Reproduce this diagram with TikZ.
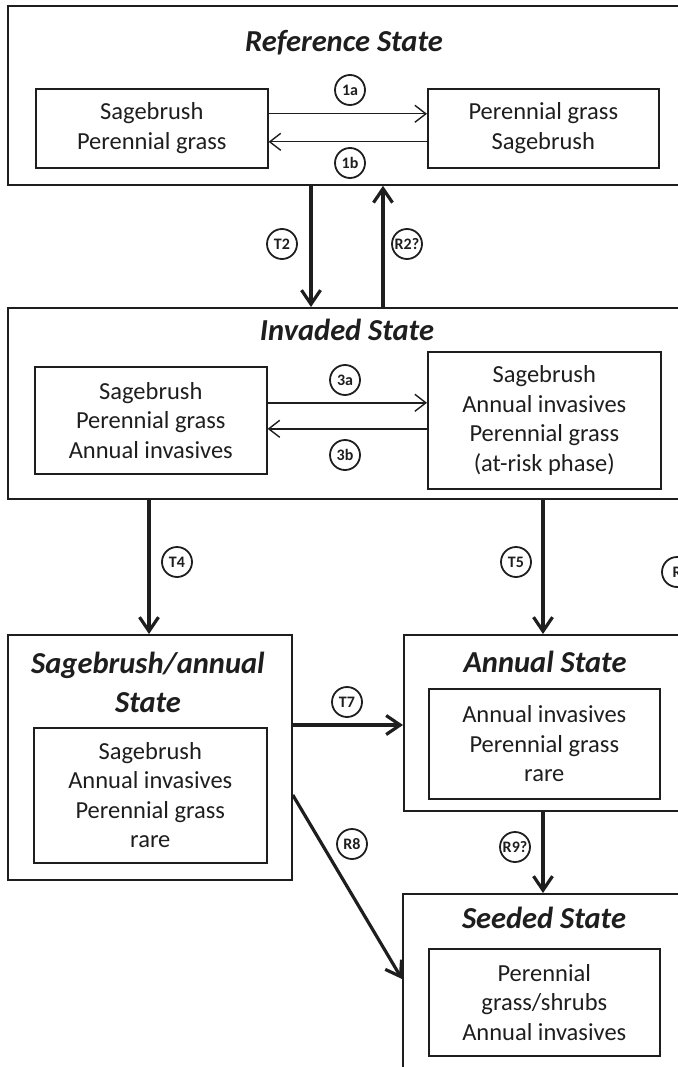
\documentclass[tikz,border=0pt]{standalone}
\usepackage{fontspec}
\setmainfont{Carlito}
\usetikzlibrary{arrows.meta}
\definecolor{ink}{RGB}{30,30,30}
\begin{document}
\begin{tikzpicture}[x=1pt,y=-1pt,
  every node/.style={text=ink},
  outerbox/.style={draw=ink,line width=1.8pt,anchor=north west,inner sep=0pt},
  innerbox/.style={draw=ink,line width=1.6pt,anchor=north west,align=center,inner sep=0pt,
    font=\fontsize{24.5}{29.5}\selectfont},
  title/.style={font=\fontsize{30.5}{39}\selectfont\bfseries\itshape,align=center},
  tag/.style={draw=ink,circle,line width=1.8pt,minimum size=30pt,inner sep=0pt,
    font=\fontsize{16}{16}\selectfont\bfseries},
  phase/.style={draw=ink,line width=1.4pt,-{Straight Barb[length=11pt,width=17pt]}},
  statejump/.style={draw=ink,line width=3.2pt,-{Straight Barb[length=14pt,width=19pt]}}]
\useasboundingbox (0,0) rectangle (677,1067);

% state boxes
\node[outerbox,minimum width=713pt,minimum height=179pt] (ref) at (7,5) {};
\node[outerbox,minimum width=713pt,minimum height=191pt] (inv) at (7,307) {};
\node[outerbox,minimum width=284pt,minimum height=245pt] (sage) at (7,634) {};
\node[outerbox,minimum width=400pt,minimum height=176pt] (ann) at (403,634) {};
\node[outerbox,minimum width=400pt,minimum height=300pt] (seed) at (402,893) {};

% state titles
\node[title] (refT) at (344,43) {Reference State};
\node[title] (invT) at (347,330) {Invaded State};
\node[title] (sageT) at (148,682) {Sagebrush/annual\\State};
\node[title] (annT) at (545,662) {Annual State};
\node[title] (seedT) at (544,918) {Seeded State};

% community phases
\node[innerbox,minimum width=232pt,minimum height=79pt] (r1) at (35,88) {Sagebrush\\Perennial grass};
\node[innerbox,minimum width=231pt,minimum height=79pt] (r2) at (427,88) {Perennial grass\\Sagebrush};
\node[innerbox,minimum width=232pt,minimum height=107pt] (i1) at (34,366) {Sagebrush\\Perennial grass\\Annual invasives};
\node[innerbox,minimum width=233pt,minimum height=137pt] (i2) at (427,351) {Sagebrush\\Annual invasives\\Perennial grass\\(at-risk phase)};
\node[innerbox,minimum width=233pt,minimum height=135pt] (s1) at (33,727) {Sagebrush\\Annual invasives\\Perennial grass\\rare};
\node[innerbox,minimum width=231pt,minimum height=110pt] (a1) at (428,688) {Annual invasives\\Perennial grass\\rare};
\node[innerbox,minimum width=231pt,minimum height=107pt] (e1) at (428,948) {Perennial\\grass/shrubs\\Annual invasives};

% pathway labels
\node[tag] (l1a) at (350,90) {1a};
\node[tag] (l1b) at (350,163) {1b};
\node[tag] (l3a) at (345,380) {3a};
\node[tag] (l3b) at (345,455) {3b};
\node[tag] (lT2) at (282,244) {T2};
\node[tag] (lR2) at (407,244) {R2?};
\node[tag] (lT4) at (177,562) {T4};
\node[tag] (lT5) at (516,562) {T5};
\node[tag] (lR) at (677,572) {R};
\node[tag] (lT7) at (347,702) {T7};
\node[tag] (lR8) at (352,844) {R8};
\node[tag] (lR9) at (515,847) {R9?};

% anchor columns and rows for the transitions
\coordinate (xT2) at (311,0);
\coordinate (xR2) at (383,0);
\coordinate (xT4) at (149,0);
\coordinate (xT5) at (543,0);
\coordinate (yT7) at (0,725);
\coordinate (yR8a) at (0,795);
\coordinate (yR8b) at (0,979);
\coordinate (p1a) at ([yshift=14.5pt]r1.east);
\coordinate (p1b) at ([yshift=-13.5pt]r1.east);
\coordinate (p3a) at ([yshift=17.5pt]i1.east);
\coordinate (p3b) at ([yshift=-8.5pt]i1.east);

% phase pathways
\draw[phase] (p1a) -- (r2.west |- p1a);
\draw[phase] (r2.west |- p1b) -- (p1b);
\draw[phase] (p3a) -- (i2.west |- p3a);
\draw[phase] (i2.west |- p3b) -- (p3b);

% transitions and restorations
\draw[statejump] (ref.south -| xT2) -- (inv.north -| xT2);
\draw[statejump] (inv.north -| xR2) -- (ref.south -| xR2);
\draw[statejump] (inv.south -| xT4) -- (sage.north -| xT4);
\draw[statejump] (inv.south -| xT5) -- (ann.north -| xT5);
\draw[statejump] (sage.east |- yT7) -- (ann.west |- yT7);
\draw[statejump] (sage.east |- yR8a) -- (seed.west |- yR8b);
\draw[statejump] (ann.south -| xT5) -- (seed.north -| xT5);
\end{tikzpicture}
\end{document}
